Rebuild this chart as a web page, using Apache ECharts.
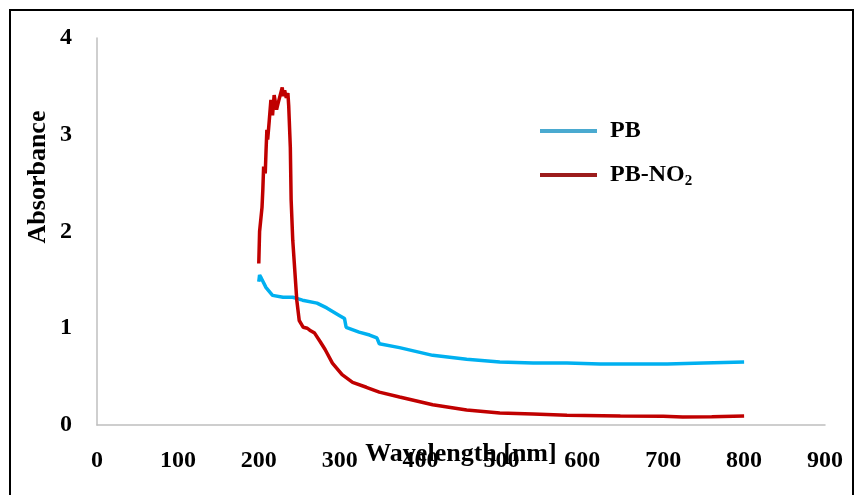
<!DOCTYPE html>
<html>
<head>
<meta charset="UTF-8">
<title>absorbance</title>
<script src="https://cdn.jsdelivr.net/npm/echarts@6/dist/echarts.min.js"></script>
<style>
	html, body { margin: 0; padding: 0; background: #fff; }
	#chart { width: 855px; height: 495px; }
</style>
</head>
<body>
<div id="chart"></div>
<script>
// x axis ticks (nm)
var xTicks = [0, 100, 200, 300, 400, 500, 600, 700, 800, 900];
var yTicks = [0, 1, 2, 3, 4];

// PB
var pbWave = [200, 201, 203, 205, 209, 217, 230, 242, 254, 272, 284, 300, 306, 308, 324, 337, 346, 349, 374, 415, 457, 498, 539, 581, 622, 660, 705, 750, 800];
var pbAbs = [1.48, 1.55, 1.52, 1.50, 1.42, 1.34, 1.32, 1.32, 1.29, 1.26, 1.21, 1.13, 1.10, 1.01, 0.96, 0.93, 0.90, 0.84, 0.80, 0.72, 0.68, 0.65, 0.64, 0.64, 0.63, 0.63, 0.63, 0.64, 0.65];

// PB-NO2
var no2Wave = [200, 201, 204, 205, 206, 208, 209, 210, 211, 213, 215, 217, 219, 222, 224, 229, 230, 232, 234, 236, 237, 239, 240, 242, 247, 250, 255, 260, 263, 269, 276, 282, 291, 303, 316, 333, 349, 374, 415, 457, 498, 539, 581, 647, 700, 724, 760, 800];
var no2Abs = [1.67, 2.0, 2.25, 2.43, 2.67, 2.6, 2.84, 3.05, 2.95, 3.15, 3.36, 3.2, 3.41, 3.26, 3.33, 3.49, 3.40, 3.46, 3.38, 3.43, 3.3, 2.87, 2.33, 1.91, 1.29, 1.08, 1.01, 1.00, 0.98, 0.95, 0.86, 0.78, 0.64, 0.52, 0.44, 0.39, 0.34, 0.29, 0.21, 0.155, 0.124, 0.114, 0.10, 0.093, 0.09, 0.083, 0.085, 0.093];

function pairs(xs, ys) {
	var out = [];
	for (var i = 0; i < xs.length; i++) out.push([xs[i], ys[i]]);
	return out;
}

var font = 'Liberation Serif';
var myChart = echarts.init(document.getElementById('chart'));

var option = {
	animation: false,
	grid: { left: 97, right: 30, top: 38, bottom: 70, outerBoundsMode: 'none', containLabel: false },
	xAxis: {
		type: 'value',
		min: xTicks[0],
		max: xTicks[xTicks.length - 1],
		interval: 100,
		name: 'Wavelength [nm]',
		nameLocation: 'middle',
		nameGap: 16,
		nameMoveOverlap: false,
		nameTextStyle: { fontFamily: font, fontWeight: 'bold', fontSize: 26, color: '#000' },
		axisLine: { lineStyle: { color: '#BFBFBF', width: 1.5 } },
		axisTick: { show: false },
		splitLine: { show: false },
		axisLabel: { fontFamily: font, fontWeight: 'bold', fontSize: 24, color: '#000', margin: 24 }
	},
	yAxis: {
		type: 'value',
		min: yTicks[0],
		max: yTicks[yTicks.length - 1],
		interval: 1,
		axisLine: { show: true, lineStyle: { color: '#BFBFBF', width: 1.5 } },
		axisTick: { show: false },
		splitLine: { show: false },
		axisLabel: { fontFamily: font, fontWeight: 'bold', fontSize: 24, color: '#000', margin: 25, padding: [7, 0, 0, 0] }
	},
	legend: {
		orient: 'vertical',
		left: 535,
		top: 114,
		icon: 'rect',
		itemWidth: 57,
		itemHeight: 4,
		itemGap: 20,
		data: [
			{ name: 'PB', itemStyle: { color: '#4AAAD0' } },
			{ name: 'PB-NO2', itemStyle: { color: '#9C1C1C' } }
		],
		formatter: function (name) {
			if (name === 'PB-NO2') return '{a|PB-NO}{s|2}';
			return '{a|' + name + '}';
		},
		textStyle: {
			padding: [0, 0, 0, 8],
			rich: {
				a: { fontFamily: font, fontWeight: 'bold', fontSize: 24, color: '#000', lineHeight: 24 },
				s: { fontFamily: font, fontWeight: 'bold', fontSize: 15, color: '#000', padding: [12, 0, 0, 0] }
			}
		}
	},
	graphic: [
		{
			type: 'rect',
			shape: { x: 10, y: 10, width: 843, height: 500 },
			style: { fill: 'none', stroke: '#000', lineWidth: 2 }
		},
		{
			type: 'text',
			x: 38,
			y: 177,
			rotation: Math.PI / 2,
			style: {
				text: 'Absorbance',
				fontFamily: font,
				fontWeight: 'bold',
				fontSize: 26,
				fill: '#000',
				align: 'center',
				verticalAlign: 'middle'
			}
		}
	],
	series: [
		{
			name: 'PB',
			type: 'line',
			symbol: 'none',
			color: '#00B0F0',
			lineStyle: { width: 3.5, color: '#00B0F0' },
			data: pairs(pbWave, pbAbs)
		},
		{
			name: 'PB-NO2',
			type: 'line',
			symbol: 'none',
			color: '#C00000',
			lineStyle: { width: 3.5, color: '#C00000' },
			data: pairs(no2Wave, no2Abs)
		}
	]
};
myChart.setOption(option);
</script>
</body>
</html>
